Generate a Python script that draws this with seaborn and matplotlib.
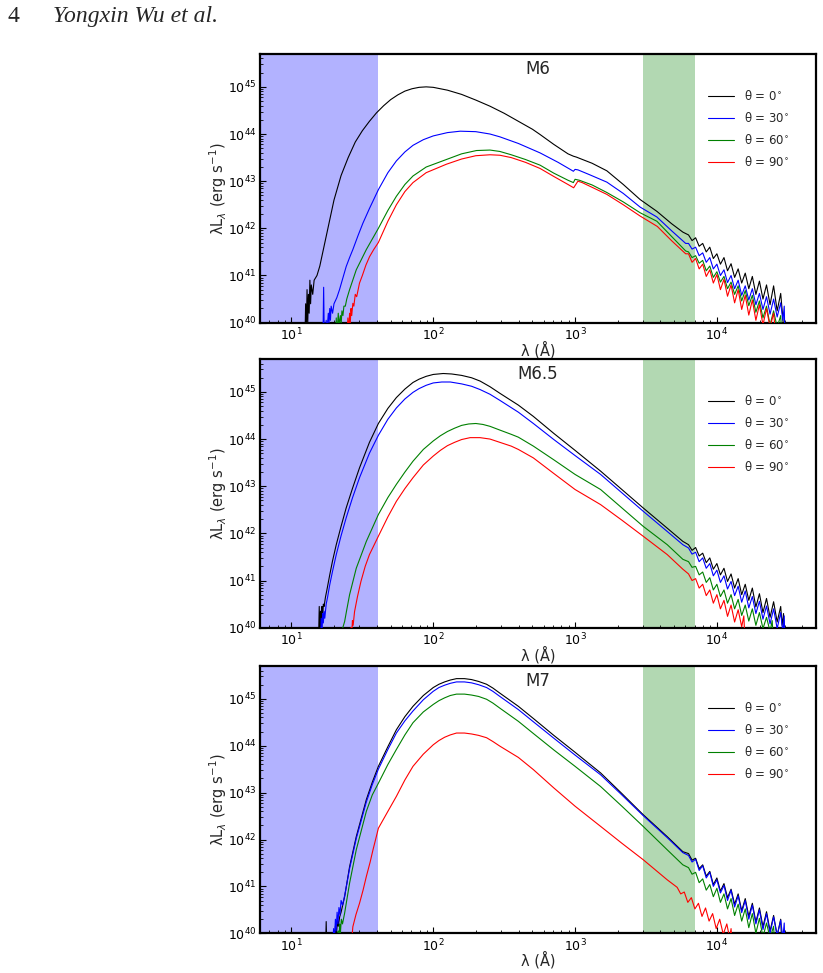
#!/usr/bin/env python3
"""
Three-panel SED figure (M6, M6.5, M7): lambda L_lambda vs wavelength
for four viewing angles, with the X-ray/EUV band and the optical band shaded.
"""

import numpy as np
import pandas as pd
import matplotlib
matplotlib.use("Agg")
import matplotlib.pyplot as plt
import seaborn as sns

# ---------------------------------------------------------------------------
# Data: log10(lambda / A) and log10(lambda L_lambda / erg s^-1)
# ---------------------------------------------------------------------------
PANELS = ["M6", "M6.5", "M7"]
ANGLES = ["θ = 0$^{\\circ}$", "θ = 30$^{\\circ}$", "θ = 60$^{\\circ}$", "θ = 90$^{\\circ}$"]
COLORS = ["black", "blue", "green", "red"]

BLUE_BAND = (6.0, 41.0)
GREEN_BAND = (3000.0, 7000.0)

# ---- M6 ----
M6_T0_X = [1.095, 1.10, 1.105, 1.11, 1.115, 1.12, 1.125, 1.13, 1.135, 1.14, 1.15, 1.16, 1.17, 1.18, 1.20,
           1.225, 1.25, 1.275, 1.30, 1.35, 1.40, 1.45, 1.50, 1.55, 1.60, 1.65, 1.70, 1.75, 1.80, 1.85, 1.90,
           1.95, 2.00, 2.10, 2.20, 2.30, 2.40, 2.50, 2.60, 2.70, 2.753, 2.85, 2.95, 2.988, 3.01, 3.035, 3.12,
           3.224, 3.34, 3.459, 3.577, 3.68, 3.76,
           3.80, 3.825, 3.85, 3.875, 3.90, 3.925, 3.95, 3.975, 4.00, 4.025, 4.05, 4.075, 4.10, 4.125, 4.15,
           4.175, 4.20, 4.225, 4.25, 4.275, 4.30, 4.325, 4.35, 4.375, 4.40, 4.425, 4.45, 4.465, 4.475]
M6_T0_Y = [39.6, 40.4, 39.8, 40.7, 40.0, 40.6, 40.2, 40.9, 40.4, 40.8, 40.6, 40.9, 40.95, 41.0, 41.2,
           41.55, 41.9, 42.25, 42.6, 43.12, 43.5, 43.83, 44.07, 44.27, 44.45, 44.6, 44.73, 44.83, 44.91, 44.96, 44.99,
           45.0, 44.99, 44.93, 44.84, 44.72, 44.59, 44.44, 44.27, 44.1, 43.99, 43.78, 43.58, 43.53, 43.51, 43.48, 43.38,
           43.22, 42.93, 42.61, 42.36, 42.1, 41.92,
           41.86, 41.74, 41.80, 41.62, 41.68, 41.50, 41.60, 41.36, 41.46, 41.24, 41.38, 41.10, 41.25, 40.96, 41.14,
           40.84, 41.05, 40.72, 40.98, 40.60, 40.88, 40.50, 40.80, 40.38, 40.78, 40.25, 40.62, 40.10, 39.6]

M6_T30_X = [1.222, 1.227, 1.232, 1.245, 1.25, 1.26, 1.265, 1.27, 1.275, 1.28, 1.29, 1.30, 1.32, 1.339, 1.36,
            1.386, 1.41, 1.433, 1.47, 1.504, 1.55, 1.613, 1.68, 1.74, 1.80, 1.857, 1.93, 2.00, 2.10, 2.19, 2.30,
            2.40, 2.47, 2.60, 2.753, 2.88, 2.96, 2.988, 3.0, 3.02, 3.10, 3.224, 3.34, 3.459, 3.577, 3.68, 3.78,
            3.80, 3.825, 3.85, 3.875, 3.90, 3.925, 3.95, 3.975, 4.00, 4.025, 4.05, 4.075, 4.10, 4.125, 4.15,
            4.175, 4.20, 4.225, 4.25, 4.275, 4.30, 4.325, 4.35, 4.375, 4.40, 4.425, 4.45, 4.465, 4.475, 4.48]
M6_T30_Y = [39.6, 40.75, 39.6, 40.05, 39.8, 40.2, 40.0, 40.3, 40.05, 40.35, 40.2, 40.4, 40.53, 40.70, 40.92,
            41.19, 41.38, 41.55, 41.85, 42.11, 42.42, 42.82, 43.18, 43.43, 43.62, 43.76, 43.88, 43.96, 44.03, 44.06, 44.05,
            44.0, 43.94, 43.80, 43.60, 43.40, 43.26, 43.21, 43.25, 43.24, 43.14, 42.98, 42.74, 42.45, 42.24, 41.95, 41.68,
            41.68, 41.56, 41.60, 41.42, 41.48, 41.28, 41.38, 41.14, 41.24, 41.00, 41.12, 40.85, 41.00, 40.72, 40.90,
            40.58, 40.78, 40.48, 40.72, 40.38, 40.62, 40.28, 40.55, 40.18, 40.50, 40.12, 40.42, 40.05, 40.35, 39.6]

M6_T60_X = [1.31, 1.316, 1.32, 1.33, 1.335, 1.345, 1.35, 1.356, 1.363, 1.37, 1.38, 1.39, 1.41, 1.457, 1.528,
            1.613, 1.68, 1.74, 1.80, 1.857, 1.95, 2.093, 2.2, 2.305, 2.4, 2.47, 2.55, 2.65, 2.753, 2.85, 2.95,
            2.988, 3.0, 3.03, 3.12, 3.224, 3.34, 3.459, 3.577, 3.68, 3.78,
            3.80, 3.825, 3.85, 3.875, 3.90, 3.925, 3.95, 3.975, 4.00, 4.025, 4.05, 4.075, 4.10, 4.125, 4.15,
            4.175, 4.20, 4.225, 4.25, 4.275, 4.30, 4.325, 4.35, 4.375, 4.40, 4.425, 4.45, 4.46]
M6_T60_Y = [39.6, 40.1, 39.7, 40.2, 39.95, 40.15, 39.95, 40.25, 40.15, 40.35, 40.35, 40.5, 40.70, 41.12, 41.55,
            42.0, 42.38, 42.68, 42.93, 43.11, 43.30, 43.46, 43.58, 43.65, 43.66, 43.63, 43.56, 43.46, 43.34, 43.17, 43.02,
            42.97, 43.04, 43.02, 42.92, 42.76, 42.56, 42.33, 42.15, 41.83, 41.52,
            41.50, 41.38, 41.42, 41.26, 41.32, 41.10, 41.20, 40.96, 41.08, 40.86, 40.98, 40.72, 40.86, 40.60, 40.78,
            40.46, 40.68, 40.36, 40.58, 40.22, 40.46, 40.10, 40.35, 39.95, 40.25, 39.9, 40.15, 39.6]

M6_T90_X = [1.39, 1.398, 1.403, 1.41, 1.415, 1.42, 1.425, 1.433, 1.44, 1.45, 1.46, 1.48, 1.50, 1.525, 1.551,
            1.58, 1.613, 1.68, 1.74, 1.80, 1.857, 1.95, 2.093, 2.2, 2.3, 2.4, 2.47, 2.55, 2.65, 2.753, 2.85,
            2.95, 2.99, 3.02, 3.05, 3.12, 3.224, 3.34, 3.459, 3.58, 3.68, 3.78,
            3.80, 3.825, 3.85, 3.875, 3.90, 3.925, 3.95, 3.975, 4.00, 4.025, 4.05, 4.075, 4.10, 4.125, 4.15,
            4.175, 4.20, 4.225, 4.25, 4.275, 4.30, 4.325, 4.35, 4.375, 4.40, 4.42]
M6_T90_Y = [39.6, 40.1, 39.8, 40.2, 40.0, 40.3, 40.15, 40.41, 40.35, 40.6, 40.55, 40.84, 41.0, 41.22, 41.40,
            41.55, 41.70, 42.15, 42.5, 42.78, 42.97, 43.18, 43.36, 43.47, 43.54, 43.56, 43.55, 43.50, 43.40, 43.27, 43.10,
            42.93, 42.86, 43.0, 42.97, 42.87, 42.72, 42.5, 42.26, 42.04, 41.74, 41.46,
            41.46, 41.28, 41.36, 41.14, 41.24, 40.98, 41.12, 40.84, 41.02, 40.70, 40.92, 40.56, 40.80, 40.42, 40.70,
            40.28, 40.58, 40.16, 40.48, 40.05, 40.38, 39.95, 40.3, 39.9, 40.2, 39.6]

# ---- M6.5 ----
M65_T0_X = [1.19, 1.196, 1.20, 1.205, 1.21, 1.215, 1.22, 1.225, 1.23, 1.24, 1.25, 1.27, 1.29, 1.316, 1.35,
            1.386, 1.43, 1.48, 1.55, 1.613, 1.68, 1.74, 1.80, 1.857, 1.90, 1.95, 2.0, 2.07, 2.13, 2.2, 2.27,
            2.33, 2.40, 2.47, 2.6, 2.706, 2.85, 3.0, 3.18, 3.33, 3.48, 3.65, 3.76,
            3.80, 3.825, 3.85, 3.875, 3.90, 3.925, 3.95, 3.975, 4.00, 4.025, 4.05, 4.075, 4.10, 4.125, 4.15,
            4.175, 4.20, 4.225, 4.25, 4.275, 4.30, 4.325, 4.35, 4.375, 4.40, 4.425, 4.45, 4.46, 4.47, 4.475]
M65_T0_Y = [39.6, 40.45, 39.8, 40.35, 40.0, 40.45, 40.2, 40.5, 40.45, 40.65, 40.8, 41.12, 41.42, 41.76, 42.15,
            42.54, 42.95, 43.39, 43.93, 44.33, 44.65, 44.88, 45.06, 45.2, 45.27, 45.33, 45.37, 45.39, 45.38, 45.35, 45.30,
            45.23, 45.11, 44.97, 44.72, 44.48, 44.12, 43.76, 43.32, 42.93, 42.54, 42.11, 41.83,
            41.76, 41.64, 41.70, 41.52, 41.58, 41.38, 41.48, 41.24, 41.36, 41.12, 41.26, 40.98, 41.14, 40.84, 41.04,
            40.70, 40.92, 40.58, 40.84, 40.44, 40.72, 40.32, 40.62, 40.22, 40.55, 40.12, 40.45, 40.05, 40.3, 39.6]

M65_T30_X = [1.205, 1.21, 1.215, 1.22, 1.225, 1.23, 1.235, 1.245, 1.255, 1.27, 1.29, 1.316, 1.35, 1.386, 1.43,
             1.48, 1.55, 1.613, 1.68, 1.74, 1.80, 1.857, 1.90, 1.95, 2.0, 2.06, 2.12, 2.2, 2.27, 2.33, 2.40,
             2.47, 2.6, 2.706, 2.85, 3.0, 3.18, 3.33, 3.48, 3.65, 3.76,
             3.80, 3.825, 3.85, 3.875, 3.90, 3.925, 3.95, 3.975, 4.00, 4.025, 4.05, 4.075, 4.10, 4.125, 4.15,
             4.175, 4.20, 4.225, 4.25, 4.275, 4.30, 4.325, 4.35, 4.375, 4.40, 4.425, 4.45, 4.465, 4.475, 4.48]
M65_T30_Y = [39.6, 40.2, 39.8, 40.3, 40.1, 40.35, 40.2, 40.5, 40.65, 40.91, 41.2, 41.55, 41.95, 42.33, 42.75,
             43.18, 43.7, 44.08, 44.42, 44.66, 44.85, 44.99, 45.07, 45.14, 45.19, 45.21, 45.21, 45.17, 45.12, 45.05, 44.95,
             44.82, 44.57, 44.33, 43.99, 43.65, 43.25, 42.86, 42.47, 42.04, 41.76,
             41.69, 41.56, 41.60, 41.40, 41.48, 41.26, 41.36, 41.10, 41.22, 40.96, 41.10, 40.82, 40.98, 40.68, 40.88,
             40.54, 40.78, 40.42, 40.66, 40.30, 40.56, 40.18, 40.46, 40.08, 40.40, 39.98, 40.32, 39.9, 40.25, 39.6]

M65_T60_X = [1.355, 1.362, 1.375, 1.39, 1.41, 1.457, 1.528, 1.613, 1.68, 1.74, 1.80, 1.857, 1.93, 2.0, 2.05,
             2.1, 2.15, 2.2, 2.25, 2.3, 2.35, 2.4, 2.47, 2.55, 2.6, 2.706, 2.85, 3.0, 3.18, 3.33, 3.48,
             3.65, 3.76,
             3.80, 3.825, 3.85, 3.875, 3.90, 3.925, 3.95, 3.975, 4.00, 4.025, 4.05, 4.075, 4.10, 4.125, 4.15,
             4.175, 4.20, 4.225, 4.25, 4.275, 4.30, 4.325, 4.35, 4.375, 4.39, 4.40]
M65_T60_Y = [39.6, 40.0, 40.13, 40.38, 40.70, 41.26, 41.83, 42.40, 42.76, 43.04, 43.3, 43.53, 43.78, 43.96, 44.07,
             44.16, 44.23, 44.29, 44.32, 44.33, 44.31, 44.27, 44.19, 44.1, 44.04, 43.85, 43.56, 43.25, 42.93, 42.54, 42.15,
             41.76, 41.45,
             41.40, 41.28, 41.30, 41.12, 41.18, 40.96, 41.06, 40.80, 40.92, 40.66, 40.80, 40.52, 40.70, 40.40, 40.60,
             40.26, 40.48, 40.14, 40.40, 40.05, 40.32, 39.98, 40.22, 39.92, 40.15, 39.6]

M65_T90_X = [1.415, 1.42, 1.425, 1.43, 1.435, 1.445, 1.465, 1.49, 1.52, 1.55, 1.613, 1.68, 1.74, 1.80, 1.857,
             1.93, 2.0, 2.05, 2.1, 2.15, 2.2, 2.26, 2.33, 2.4, 2.47, 2.55, 2.6, 2.706, 2.85, 3.0, 3.18,
             3.33, 3.48, 3.65, 3.76,
             3.80, 3.825, 3.85, 3.875, 3.90, 3.925, 3.95, 3.975, 4.00, 4.025, 4.05, 4.075, 4.10, 4.125, 4.15,
             4.175, 4.19, 4.20]
M65_T90_Y = [39.6, 40.0, 39.85, 40.15, 40.05, 40.34, 40.65, 40.98, 41.3, 41.55, 41.94, 42.35, 42.68, 42.95, 43.18,
             43.45, 43.64, 43.76, 43.86, 43.93, 43.99, 44.03, 44.03, 44.0, 43.93, 43.85, 43.78, 43.60, 43.27, 42.93, 42.61,
             42.28, 41.94, 41.55, 41.24,
             41.14, 41.00, 41.04, 40.84, 40.92, 40.68, 40.80, 40.52, 40.70, 40.40, 40.58, 40.24, 40.48, 40.12, 40.38,
             40.02, 40.25, 39.6]

# ---- M7 ----
M7_T0_X = [1.24, 1.245, 1.25, 1.30, 1.305, 1.31, 1.318, 1.325, 1.33, 1.34, 1.35, 1.375, 1.41, 1.457, 1.528,
           1.57, 1.613, 1.68, 1.74, 1.80, 1.857, 1.93, 2.0, 2.04, 2.08, 2.12, 2.164, 2.22, 2.27, 2.32, 2.376,
           2.42, 2.47, 2.6, 2.706, 2.85, 3.0, 3.18, 3.33, 3.48, 3.65, 3.76,
           3.80, 3.825, 3.85, 3.875, 3.90, 3.925, 3.95, 3.975, 4.00, 4.025, 4.05, 4.075, 4.10, 4.125, 4.15,
           4.175, 4.20, 4.225, 4.25, 4.275, 4.30, 4.325, 4.35, 4.375, 4.40, 4.425, 4.45, 4.46]
M7_T0_Y = [39.6, 40.25, 39.6, 40.0, 39.8, 40.15, 40.0, 40.3, 40.15, 40.35, 40.45, 40.78, 41.42, 42.06, 42.85,
           43.22, 43.56, 43.98, 44.34, 44.62, 44.84, 45.07, 45.24, 45.31, 45.36, 45.40, 45.43, 45.43, 45.41, 45.37, 45.31,
           45.23, 45.12, 44.84, 44.58, 44.22, 43.86, 43.42, 42.98, 42.53, 42.06, 41.74,
           41.70, 41.56, 41.60, 41.38, 41.46, 41.22, 41.32, 41.04, 41.18, 40.90, 41.06, 40.76, 40.94, 40.62, 40.84,
           40.48, 40.74, 40.36, 40.64, 40.24, 40.54, 40.14, 40.46, 40.05, 40.38, 39.95, 40.3, 39.6]

M7_T30_X = [1.29, 1.297, 1.302, 1.31, 1.315, 1.322, 1.328, 1.335, 1.342, 1.35, 1.36, 1.375, 1.41, 1.457, 1.528,
            1.57, 1.613, 1.68, 1.74, 1.80, 1.857, 1.93, 2.0, 2.04, 2.08, 2.12, 2.164, 2.22, 2.27, 2.32, 2.376,
            2.42, 2.47, 2.6, 2.706, 2.85, 3.0, 3.18, 3.33, 3.48, 3.65, 3.76,
            3.80, 3.825, 3.85, 3.875, 3.90, 3.925, 3.95, 3.975, 4.00, 4.025, 4.05, 4.075, 4.10, 4.125, 4.15,
            4.175, 4.20, 4.225, 4.25, 4.275, 4.30, 4.325, 4.35, 4.375, 4.40, 4.425, 4.45, 4.465, 4.475, 4.48]
M7_T30_Y = [39.6, 40.1, 39.8, 40.3, 40.05, 40.45, 40.2, 40.55, 40.4, 40.7, 40.6, 40.8, 41.38, 42.02, 42.8,
            43.17, 43.5, 43.92, 44.27, 44.53, 44.74, 44.98, 45.16, 45.24, 45.29, 45.33, 45.36, 45.36, 45.34, 45.30, 45.24,
            45.16, 45.05, 44.77, 44.51, 44.16, 43.80, 43.38, 42.95, 42.51, 42.04, 41.72,
            41.66, 41.52, 41.58, 41.34, 41.44, 41.18, 41.30, 41.00, 41.14, 40.86, 41.02, 40.70, 40.92, 40.56, 40.80,
            40.44, 40.70, 40.30, 40.60, 40.20, 40.50, 40.08, 40.42, 40.0, 40.35, 39.95, 40.28, 39.9, 40.22, 39.6]

M7_T60_X = [1.325, 1.33, 1.335, 1.34, 1.345, 1.352, 1.36, 1.375, 1.41, 1.457, 1.528, 1.57, 1.613, 1.68, 1.74,
            1.80, 1.857, 1.93, 2.0, 2.04, 2.08, 2.12, 2.164, 2.22, 2.27, 2.32, 2.376, 2.42, 2.47, 2.6, 2.706,
            2.85, 3.0, 3.18, 3.33, 3.48, 3.65, 3.76,
            3.80, 3.825, 3.85, 3.875, 3.90, 3.925, 3.95, 3.975, 4.00, 4.025, 4.05, 4.075, 4.10, 4.125, 4.15,
            4.175, 4.20, 4.225, 4.25, 4.275, 4.30, 4.325, 4.35, 4.375, 4.40, 4.41]
M7_T60_Y = [39.6, 40.05, 39.8, 40.2, 40.0, 40.3, 40.2, 40.43, 41.07, 41.78, 42.6, 42.95, 43.2, 43.6, 43.92,
            44.23, 44.49, 44.72, 44.88, 44.96, 45.02, 45.07, 45.10, 45.10, 45.08, 45.05, 44.99, 44.91, 44.80, 44.52, 44.26,
            43.91, 43.56, 43.13, 42.71, 42.28, 41.78, 41.46,
            41.40, 41.26, 41.30, 41.08, 41.16, 40.92, 41.04, 40.78, 40.96, 40.66, 40.84, 40.52, 40.74, 40.38, 40.62,
            40.26, 40.52, 40.12, 40.42, 40.0, 40.32, 39.92, 40.22, 39.9, 40.15, 39.6]

M7_T90_X = [1.415, 1.42, 1.425, 1.433, 1.455, 1.48, 1.505, 1.528, 1.555, 1.575, 1.595, 1.613, 1.68, 1.74, 1.80,
            1.857, 1.93, 2.0, 2.04, 2.08, 2.12, 2.164, 2.22, 2.27, 2.32, 2.376, 2.42, 2.47, 2.6, 2.706, 2.85,
            3.0, 3.18, 3.33, 3.48, 3.65,
            3.72, 3.745, 3.77, 3.795, 3.82, 3.845, 3.87, 3.895, 3.92, 3.945, 3.97, 3.995, 4.02, 4.045, 4.07,
            4.09, 4.10, 4.11]
M7_T90_Y = [39.6, 39.95, 39.85, 40.14, 40.4, 40.64, 40.92, 41.21, 41.52, 41.78, 42.02, 42.24, 42.6, 42.92, 43.27,
            43.56, 43.82, 44.02, 44.11, 44.18, 44.23, 44.27, 44.27, 44.25, 44.22, 44.17, 44.09, 43.99, 43.75, 43.49, 43.1,
            42.71, 42.28, 41.92, 41.57, 41.14,
            40.98, 40.84, 40.88, 40.66, 40.76, 40.52, 40.64, 40.36, 40.54, 40.26, 40.42, 40.10, 40.30, 39.98, 40.2,
            39.9, 40.1, 39.6]

CURVES = {
    "M6": [(M6_T0_X, M6_T0_Y), (M6_T30_X, M6_T30_Y), (M6_T60_X, M6_T60_Y), (M6_T90_X, M6_T90_Y)],
    "M6.5": [(M65_T0_X, M65_T0_Y), (M65_T30_X, M65_T30_Y), (M65_T60_X, M65_T60_Y), (M65_T90_X, M65_T90_Y)],
    "M7": [(M7_T0_X, M7_T0_Y), (M7_T30_X, M7_T30_Y), (M7_T60_X, M7_T60_Y), (M7_T90_X, M7_T90_Y)],
}

# axes rectangles in figure fractions (left, bottom, width, height)
AX_RECTS = [
    [0.3159, 0.6684, 0.6756, 0.2762],
    [0.3159, 0.3549, 0.6756, 0.2762],
    [0.3159, 0.0408, 0.6756, 0.2747],
]


def style_axes(ax):
    ax.set_xscale("log")
    ax.set_yscale("log")
    ax.set_xlim(6, 5e4)
    ax.set_ylim(1e40, 5e45)
    for sp in ax.spines.values():
        sp.set_visible(True)
        sp.set_linewidth(1.6)
        sp.set_color("black")
    ax.tick_params(which="both", direction="in", top=False, right=False,
                   left=True, bottom=True, colors="black", labelsize=9)
    ax.tick_params(which="major", length=4, width=0.8, pad=3)
    ax.tick_params(which="minor", length=2.2, width=0.6)
    ax.tick_params(axis="y", which="major", pad=2.5)


def main():
    sns.set_style("white")
    plt.rcParams["font.family"] = ["DejaVu Sans"]
    plt.rcParams["mathtext.fontset"] = "dejavusans"

    fig = plt.figure(figsize=(8.23, 9.73), dpi=100)
    fig.patch.set_facecolor("white")

    fig.text(8 / 823, 1 - 22 / 973, "4", family="Liberation Serif", fontsize=17,
             va="baseline", ha="left")
    fig.text(53 / 823, 1 - 22 / 973, "Yongxin Wu et al.", family="Liberation Serif",
             style="italic", fontsize=17, va="baseline", ha="left")

    for rect, name in zip(AX_RECTS, PANELS):
        ax = fig.add_axes(rect)
        style_axes(ax)

        ax.axvspan(*BLUE_BAND, color="blue", alpha=0.3, lw=0, zorder=0)
        ax.axvspan(*GREEN_BAND, color="green", alpha=0.3, lw=0, zorder=0)

        for (lx, ly), label, color in zip(CURVES[name], ANGLES, COLORS):
            df = pd.DataFrame({"lam": 10 ** np.array(lx), "L": 10 ** np.array(ly)})
            sns.lineplot(data=df, x="lam", y="L", color=color, lw=0.8,
                         estimator=None, sort=False, label=label, ax=ax, zorder=3)

        ax.set_xlim(6, 5e4)
        ax.set_ylim(1e40, 5e45)
        ax.set_xlabel("λ (Å)", fontsize=10.5, labelpad=-2)
        ax.set_ylabel("λL$_{\\lambda}$ (erg s$^{-1}$)", fontsize=10.5, labelpad=-1)

        ax.text(0.5, 0.978, name, transform=ax.transAxes, ha="center", va="top",
                fontsize=12)

        ax.legend(loc="upper left", bbox_to_anchor=(0.806, 0.868), frameon=False,
                  fontsize=8.5, borderpad=0, borderaxespad=0, labelspacing=0.68,
                  handlelength=2.2, handletextpad=0.8)

    fig.savefig("out.png", dpi=100, facecolor="white")
    plt.close(fig)


if __name__ == "__main__":
    main()
